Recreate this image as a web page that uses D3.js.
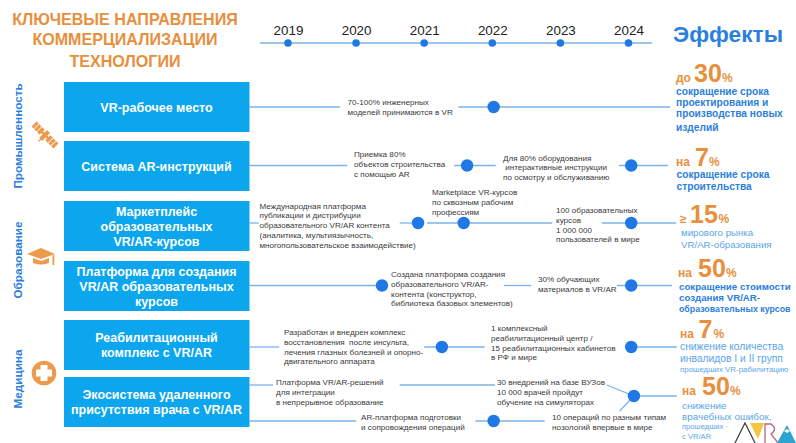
<!DOCTYPE html>
<html>
<head>
<meta charset="utf-8">
<script src="https://cdn.jsdelivr.net/npm/d3@7"></script>
<style>
  html, body { margin: 0; padding: 0; background: #fff; overflow: hidden; }
  svg { display: block; font-family: "Liberation Sans", Arial, sans-serif; }
</style>
</head>
<body>
<script>
// data
var years = [2019, 2020, 2021, 2022, 2023, 2024];
var tracks = ["VR-рабочее место", "Система AR-инструкций", "Маркетплейс образовательных VR/AR-курсов",
  "Платформа для создания VR/AR образовательных курсов", "Реабилитационный комплекс с VR/AR",
  "Экосистема удаленного присутствия врача с VR/AR"];
var trackLines = [["VR-рабочее место"], ["Система AR-инструкций"], ["Маркетплейс", "образовательных", "VR/AR-курсов"],
  ["Платформа для создания", "VR/AR образовательных", "курсов"], ["Реабилитационный", "комплекс с VR/AR"],
  ["Экосистема удаленного", "присутствия врача с VR/AR"]];
var sectors = ["Промышленность", "Образование", "Медицина"];
// milestone dots: year on the timeline
var milestoneYear = [2022.02, 2021.63, 2024.04, 2020.91, 2021.58, 2024.04, 2020.38, 2024.04, 2021.26, 2024.04, 2024.08, 2022.02];
var effectPrefix = ["до", "на", "≥", "на", "на", "на"];
var effectValue = ["30", "7", "15", "50", "7", "50"];
var effectText = [
  ["сокращение срока", "проектирования и", "производства новых", "изделий"],
  ["сокращение срока", "строительства"],
  ["мирового рынка", "VR/AR-образования"],
  ["сокращение стоимости", "создания VR/AR-", "образовательных курсов"],
  ["снижение количества", "инвалидов I и II групп", "прошедших VR-рабилитацию"],
  ["снижение", "врачебных ошибок,", "прошедших ·", "с VR/AR"]
];

var width = 796, height = 443;
var orange = "#e88f3e", blue = "#2b80de", boxBlue = "#0ba6ee", lineBlue = "#7cb3ea", dotBlue = "#1f78e6", grey = "#3a3a3a";

var svg = d3.select("body").append("svg")
    .attr("width", width)
    .attr("height", height);

// timeline scale shared by axis, connectors and dots
var x = d3.scaleLinear().domain([2019, 2024]).range([288, 628.5]);

// title
svg.append("g").selectAll("text")
    .data(["КЛЮЧЕВЫЕ НАПРАВЛЕНИЯ", "КОММЕРЦИАЛИЗАЦИИ", "ТЕХНОЛОГИИ"])
  .enter().append("text")
    .attr("x", 125)
    .attr("y", function(d, i) { return [25, 45, 67][i]; })
    .attr("text-anchor", "middle")
    .attr("fill", orange)
    .attr("font-size", 16.1)
    .attr("font-weight", "bold")
    .text(function(d) { return d; });

// year axis
svg.append("line").attr("x1", 260).attr("x2", 652).attr("y1", 43).attr("y2", 43)
    .attr("stroke", lineBlue).attr("stroke-width", 1.6);
var axis = svg.append("g")
    .attr("transform", "translate(0,35)")
    .call(d3.axisTop(x).tickValues(years).tickSize(0).tickPadding(0).tickFormat(d3.format("d")));
axis.select(".domain").remove();
axis.selectAll("text").attr("font-size", 13.4).attr("fill", "#222").attr("font-family", "inherit").attr("dy", 0);
svg.append("g").selectAll("circle")
    .data(years)
  .enter().append("circle")
    .attr("cx", function(d) { return x(d); })
    .attr("cy", 43)
    .attr("r", 3.8)
    .attr("fill", dotBlue);

svg.append("text").attr("x", 673).attr("y", 41.5)
    .attr("fill", blue).attr("font-size", 22.7).attr("font-weight", "bold")
    .text("Эффекты");

// tracks
var boxTop = d3.scaleOrdinal().domain(tracks).range([82, 141, 201, 261, 320, 377]);
var boxes = svg.append("g").selectAll("g")
    .data(tracks)
  .enter().append("g");
boxes.append("rect")
    .attr("x", 64).attr("width", 185.5).attr("height", 50)
    .attr("y", function(d) { return boxTop(d); })
    .attr("fill", boxBlue);
boxes.each(function(d, i) {
  var lines = trackLines[i];
  d3.select(this).selectAll("text")
      .data(lines)
    .enter().append("text")
      .attr("x", 156.5)
      .attr("y", function(l, j) { return boxTop(d) + 25 + 4.5 + (j - (lines.length - 1) / 2) * 15; })
      .attr("text-anchor", "middle")
      .attr("fill", "#fff")
      .attr("font-size", 12.5)
      .attr("font-weight", "bold")
      .text(function(l) { return l; });
});

// connector lines, ends given in timeline years
var linkLayout = [
  {y: 107, from: 2018.43, to: 2019.76}, {y: 107, from: 2021.50, to: 2024.61},
  {y: 165.5, from: 2018.43, to: 2019.87}, {y: 165.5, from: 2021.44, to: 2022.05}, {y: 165.5, from: 2023.86, to: 2024.58},
  {y: 223, from: 2018.43, to: 2018.57}, {y: 223, from: 2020.64, to: 2020.94}, {y: 223, from: 2021.04, to: 2022.88}, {y: 223, from: 2023.61, to: 2024.70},
  {y: 285.5, from: 2018.43, to: 2020.38}, {y: 285.5, from: 2022.17, to: 2022.57}, {y: 285.5, from: 2023.83, to: 2024.64},
  {y: 347, from: 2018.43, to: 2018.87}, {y: 347, from: 2021.00, to: 2021.89}, {y: 347, from: 2023.95, to: 2024.71},
  {y: 385, from: 2018.43, to: 2018.78}, {y: 385, from: 2020.64, to: 2022.04},
  {y: 396, from: 2024.08, to: 2024.71},
  {y: 421, from: 2018.43, to: 2020.00}, {y: 421, from: 2021.75, to: 2022.77},
  {y: 385, y2: 396, from: 2023.68, to: 2024.08}, {y: 411, y2: 396, from: 2023.87, to: 2024.08}
];
svg.append("g").selectAll("line")
    .data(linkLayout)
  .enter().append("line")
    .attr("x1", function(d) { return x(d.from); })
    .attr("x2", function(d) { return x(d.to); })
    .attr("y1", function(d) { return d.y; })
    .attr("y2", function(d) { return d.y2 === undefined ? d.y : d.y2; })
    .attr("stroke", lineBlue)
    .attr("stroke-width", 1.3);

// milestone dots
var dotY = [107, 165.5, 165.5, 223, 223, 223, 285.5, 285.5, 347, 347, 396, 421];
svg.append("g").selectAll("circle")
    .data(milestoneYear)
  .enter().append("circle")
    .attr("cx", function(d) { return x(d); })
    .attr("cy", function(d, i) { return dotY[i]; })
    .attr("r", 6.2)
    .attr("fill", dotBlue);

// notes
var notes = [
  {x: 347.5, y: 105, lines: ["70-100% инженерных", "моделей принимаются в VR"]},
  {x: 354, y: 157, lines: ["Приемка 80%", "объектов строительства", "с помощью AR"]},
  {x: 503, y: 160.5, lines: ["Для 80% оборудования", " интерактивные инструкции", "по осмотру и обслуживанию"]},
  {x: 259.5, y: 208.5, lines: ["Международная платформа", "публикации и дистрибуции", "образовательного VR/AR контента", "(аналитика, мультиязычность,", "многопользовательское взаимодействие)"]},
  {x: 432, y: 195, lines: ["Marketplace VR-курсов", "по сквозным рабочим", "профессиям"]},
  {x: 556, y: 213, lines: ["100 образовательных", "курсов", "1 000 000", "пользователей в мире"]},
  {x: 391, y: 277, lines: ["Создана платформа создания", "образовательного VR/AR-", "контента (конструктор,", "библиотека базовых элементов)"]},
  {x: 538, y: 282, lines: ["30% обучающих", "материалов в VR/AR"]},
  {x: 284, y: 335, lines: ["Разработан и внедрен комплекс", "восстановления  после инсульта,", "лечения глазных болезней и опорно-", "двигательного аппарата"]},
  {x: 491, y: 331, lines: ["1 комплексный", "реабилитационный центр /", "15 реабилитационных кабинетов", "в РФ и мире"]},
  {x: 276, y: 385, lines: ["Платформа VR/AR-решений", "для интеграции", "в непрерывное образование"]},
  {x: 497, y: 385, lines: ["30 внедрений на базе ВУЗов", "10 000 врачей пройдут", "обучение на симуляторах"]},
  {x: 361, y: 420, lines: ["AR-платформа подготовки", "и сопровождения операций"]},
  {x: 552, y: 420, lines: ["10 операций по разным типам", "нозологий впервые в мире"]}
];
var noteText = svg.append("g").selectAll("text")
    .data(notes)
  .enter().append("text")
    .attr("fill", grey)
    .attr("font-size", 8.1)
    .attr("xml:space", "preserve");
noteText.each(function(d) {
  d3.select(this).selectAll("tspan")
      .data(d.lines)
    .enter().append("tspan")
      .attr("x", d.x)
      .attr("y", function(l, j) { return d.y + j * 9.8; })
      .text(function(l) { return l; });
});

// effects column
var effectLayout = [
  {x: 676, textX: 676, y: 82, numX: 694, pctX: 722, textY: [95, 105.5, 117, 131], bold: true},
  {x: 676, textX: 676.5, y: 165.5, numX: 695, pctX: 709, textY: [177.5, 189.5], bold: true},
  {x: 680, textX: 681, y: 223, numX: 690, pctX: 718.5, textY: [236, 248], bold: false},
  {x: 678, textX: 679, y: 277, numX: 698, pctX: 726, textY: [290, 301, 312], bold: true},
  {x: 680, textX: 680, y: 338, numX: 698.5, pctX: 713.5, textY: [350, 362, 372], bold: false},
  {x: 682, textX: 682, y: 395, numX: 702, pctX: 730, textY: [409, 419.5, 429, 439], bold: false}
];
effectLayout.forEach(function(e, i) {
  var g = svg.append("g");
  g.append("text").attr("x", e.x).attr("y", e.y).attr("fill", orange)
      .attr("font-size", 12).attr("font-weight", "bold").text(effectPrefix[i]);
  g.append("text").attr("x", e.numX).attr("y", e.y).attr("fill", orange)
      .attr("font-size", 25).attr("font-weight", "bold").text(effectValue[i]);
  g.append("text").attr("x", e.pctX).attr("y", e.y).attr("fill", orange)
      .attr("font-size", 12).attr("font-weight", "bold").text("%");
  g.selectAll(".fx")
      .data(effectText[i])
    .enter().append("text")
      .attr("class", "fx")
      .attr("x", e.textX)
      .attr("y", function(d, j) { return e.textY[j]; })
      .attr("fill", e.bold ? blue : "#5aa5ea")
      .attr("font-weight", e.bold ? "bold" : "normal")
      .attr("font-size", function(d) {
        if (d.indexOf("прошедших") == 0 || d == "с VR/AR") return d.length > 15 ? 7.9 : 7.6;
        if (d == "образовательных курсов") return 8.8;
        return i == 2 ? 9.7 : i == 3 ? 9.7 : i == 5 ? 9.9 : i == 4 ? 10.3 : 10.2;
      })
      .text(function(d) { return d; });
});

// sector labels
svg.append("g").selectAll("text")
    .data(sectors)
  .enter().append("text")
    .attr("transform", function(d, i) { return "translate(22," + [136, 260, 379][i] + ") rotate(-90)"; })
    .attr("text-anchor", "middle")
    .attr("fill", blue)
    .attr("font-size", 11.7)
    .attr("font-weight", "bold")
    .text(function(d) { return d; });

// sector icons
var iconOrange = "#ec9a4c";
var sat = svg.append("g").attr("transform", "translate(45,135) rotate(45)").attr("fill", iconOrange);
sat.append("rect").attr("x", -15.5).attr("y", -3.5).attr("width", 11.5).attr("height", 7);
sat.append("rect").attr("x", 4).attr("y", -3.5).attr("width", 11.5).attr("height", 7);
sat.append("rect").attr("x", -5).attr("y", -1.2).attr("width", 10).attr("height", 2.4);
sat.append("rect").attr("x", -2.2).attr("y", -5).attr("width", 4.4).attr("height", 11);
sat.append("rect").attr("x", -0.7).attr("y", 5).attr("width", 1.4).attr("height", 4);
sat.selectAll(".stripe")
    .data([-12.5, -8.5, 7.5, 11.5])
  .enter().append("rect")
    .attr("class", "stripe")
    .attr("x", function(d) { return d; })
    .attr("y", -3.5)
    .attr("width", 0.8)
    .attr("height", 7)
    .attr("fill", "#fff");

var cap = svg.append("g").attr("transform", "translate(41,254)").attr("fill", iconOrange);
cap.append("path").attr("d", "M-14,0L0,-6L14,0L0,5Z");
cap.append("path").attr("d", "M-8,4L0,7L8,4L8,9Q0,12 -8,9Z");
cap.append("rect").attr("x", 11.5).attr("y", 1).attr("width", 1.8).attr("height", 10);

svg.append("circle").attr("cx", 44).attr("cy", 373).attr("r", 12.3).attr("fill", iconOrange);
svg.append("path").attr("d", "M40.5,365H47.5V369.5H52V376.5H47.5V381H40.5V376.5H36V369.5H40.5Z")
    .attr("fill", "#fff");

// logo
var logo = svg.append("g").attr("fill", "none").attr("stroke-width", 1.3);
logo.append("path").attr("d", "M735,443L745,423L755,443").attr("stroke", "#444");
logo.append("path").attr("d", "M750,423H764L758,439Z").attr("fill", "#f3c63f").attr("stroke", "none");
logo.append("path").attr("d", "M765,443V424H771Q778,429 771,434L778,443").attr("stroke", "#b9657b");
logo.append("path").attr("d", "M777,443L787,425L796,443Z").attr("fill", "#2ea3cf").attr("stroke", "none");
logo.append("path").attr("d", "M784,431L787,429L790,431L787,433Z").attr("fill", "#fff").attr("stroke", "none");
</script>
</body>
</html>
